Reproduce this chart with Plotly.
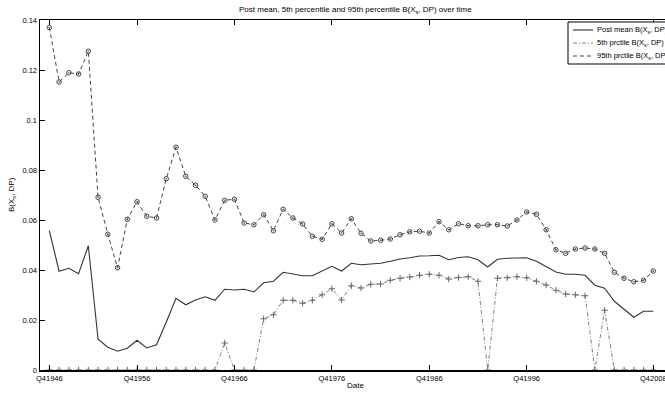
import plotly.graph_objects as go

# observation index (1..63) and labelled ticks
obs = list(range(1, 64))
tick_pos = [1, 10, 20, 30, 40, 50, 63]
tick_labels = ["Q41946", "Q41956", "Q41966", "Q41976", "Q41986", "Q41996", "Q42008"]
y_ticks = [0, 0.02, 0.04, 0.06, 0.08, 0.1, 0.12, 0.14]
y_tick_labels = ["0", "0.02", "0.04", "0.06", "0.08", "0.1", "0.12", "0.14"]

post_mean = [
    0.0557, 0.0395, 0.0407, 0.0385, 0.0497, 0.0123, 0.0091, 0.0075, 0.0087, 0.0119,
    0.0088, 0.0101, 0.0191, 0.0287, 0.0261, 0.0280, 0.0293, 0.0279, 0.0323, 0.0320,
    0.0323, 0.0312, 0.0349, 0.0355, 0.0391, 0.0384, 0.0377, 0.0377, 0.0395, 0.0415,
    0.0396, 0.0427, 0.0421, 0.0423, 0.0427, 0.0435, 0.0444, 0.0449, 0.0456, 0.0457,
    0.0459, 0.0441, 0.0450, 0.0453, 0.0441, 0.0412, 0.0443, 0.0447, 0.0449, 0.0449,
    0.0435, 0.0412, 0.0392, 0.0383, 0.0383, 0.0379, 0.0339, 0.0327, 0.0275, 0.0243,
    0.0211, 0.0235, 0.0235,
]

p5 = [
    0, 0, 0, 0, 0, 0, 0, 0, 0, 0,
    0, 0, 0, 0, 0, 0, 0, 0, 0.0108, 0,
    0, 0, 0.0205, 0.0221, 0.0279, 0.0279, 0.0267, 0.0279, 0.0301, 0.0325,
    0.0280, 0.0337, 0.0328, 0.0343, 0.0344, 0.0359, 0.0367, 0.0372, 0.0379, 0.0383,
    0.0379, 0.0364, 0.0370, 0.0373, 0.0355, 0, 0.0367, 0.0369, 0.0373, 0.0369,
    0.0355, 0.0340, 0.0319, 0.0304, 0.0301, 0.0297, 0, 0.0239, 0, 0,
    0, 0, 0,
]

p95 = [
    0.1370, 0.1152, 0.1189, 0.1184, 0.1275, 0.0691, 0.0543, 0.0409, 0.0603, 0.0673,
    0.0615, 0.0608, 0.0765, 0.0891, 0.0775, 0.0739, 0.0695, 0.0600, 0.0679, 0.0683,
    0.0588, 0.0581, 0.0621, 0.0557, 0.0643, 0.0608, 0.0584, 0.0535, 0.0523, 0.0585,
    0.0548, 0.0605, 0.0547, 0.0516, 0.0519, 0.0524, 0.0541, 0.0553, 0.0555, 0.0548,
    0.0593, 0.0561, 0.0585, 0.0577, 0.0577, 0.0581, 0.0581, 0.0576, 0.0600, 0.0632,
    0.0623, 0.0561, 0.0481, 0.0467, 0.0484, 0.0488, 0.0484, 0.0467, 0.0391, 0.0367,
    0.0353, 0.0359, 0.0396,
]

series_names = [
    "Post mean B(X<sub>s</sub>, DP)",
    "5th prctile B(X<sub>s</sub>, DP)",
    "95th prctile B(X<sub>s</sub>, DP)",
]

FONT = "Liberation Sans, Arial, Helvetica, sans-serif"
W, H = 665, 394
ML, MR, MT, MB = 40, 0, 20, 24

MEAN_LINE = dict(color="#333333", width=1.1)
P5_LINE = dict(color="#808080", width=1, dash="4px,2px,1px,2px")
P5_MARK = dict(symbol="cross-thin-open", size=4.5, color="#666666",
               line=dict(color="#666666", width=1))
P95_LINE = dict(color="#444444", width=1, dash="4px,3px")
P95_MARK = dict(symbol="circle-open-dot", size=4.5, color="#444444",
                line=dict(color="#444444", width=1))

fig = go.Figure()
fig.add_trace(go.Scatter(x=obs, y=post_mean, mode="lines", name=series_names[0],
                         line=MEAN_LINE, showlegend=False))
fig.add_trace(go.Scatter(x=obs, y=p5, mode="lines+markers", name=series_names[1],
                         line=P5_LINE, marker=P5_MARK, showlegend=False))
fig.add_trace(go.Scatter(x=obs, y=p95, mode="lines+markers", name=series_names[2],
                         line=P95_LINE, marker=P95_MARK, showlegend=False))

# ---- manual legend drawn on an overlay axis measured in pixels ----
leg_left, leg_top, leg_bot = 568, 22, 64
row_y = [30, 43, 56]
samp_x0, samp_x1, text_x = 573, 593, 595
shapes = [dict(type="rect", xref="x2", yref="y2", x0=leg_left, x1=720,
               y0=leg_top, y1=leg_bot, line=dict(color="black", width=1),
               fillcolor="white", layer="above")]
for ry, ln in zip(row_y, [MEAN_LINE, P5_LINE, P95_LINE]):
    shapes.append(dict(type="line", xref="x2", yref="y2", x0=samp_x0, x1=samp_x1,
                       y0=ry, y1=ry, line=ln, layer="above"))
fig.add_trace(go.Scatter(x=[583], y=[row_y[1]], mode="markers", marker=P5_MARK,
                         xaxis="x2", yaxis="y2", showlegend=False, hoverinfo="skip"))
fig.add_trace(go.Scatter(x=[583], y=[row_y[2]], mode="markers", marker=P95_MARK,
                         xaxis="x2", yaxis="y2", showlegend=False, hoverinfo="skip"))
annotations = []
for ry, nm in zip(row_y, series_names):
    annotations.append(dict(xref="x2", yref="y2", x=text_x, y=ry, text=nm,
                            xanchor="left", yanchor="middle", showarrow=False,
                            font=dict(family=FONT, size=7.5, color="black")))

# titles
annotations.append(dict(
    xref="paper", yref="paper", x=0.505, y=1 + (MT - 10) / (H - MT - MB),
    text="Post mean, 5th percentile and 95th percentile B(X<sub>s</sub>, DP) over time",
    xanchor="center", yanchor="middle", showarrow=False,
    font=dict(family=FONT, size=8, color="black")))
annotations.append(dict(
    xref="paper", yref="paper", x=0.505, y=-(385 - (H - MB)) / (H - MT - MB),
    text="Date", xanchor="center", yanchor="middle", showarrow=False,
    font=dict(family=FONT, size=8, color="black")))
annotations.append(dict(
    xref="paper", yref="paper", x=-(ML - 12) / (W - ML - MR), y=0.5,
    text="B(X<sub>s</sub>, DP)", textangle=-90, xanchor="center", yanchor="middle",
    showarrow=False, font=dict(family=FONT, size=8, color="black")))

fig.update_layout(
    width=W, height=H,
    margin=dict(l=ML, r=MR, t=MT, b=MB, autoexpand=False),
    paper_bgcolor="white", plot_bgcolor="white",
    font=dict(family=FONT, size=7.5, color="black"),
    showlegend=False, hovermode=False,
    shapes=shapes, annotations=annotations,
    xaxis2=dict(overlaying="x", range=[ML, W - MR], visible=False, fixedrange=True),
    yaxis2=dict(overlaying="y", range=[H - MB, MT], visible=False, fixedrange=True),
)

fig.layout.xaxis.update(
    range=[0.04, 64.2], tickmode="array", tickvals=tick_pos, ticktext=tick_labels,
    ticks="inside", ticklen=5, tickwidth=1, tickcolor="black",
    showline=True, linecolor="black", linewidth=1.5, mirror="allticks",
    showgrid=False, zeroline=False, automargin=False, ticklabeloverflow="allow",
    tickfont=dict(family=FONT, size=7.5),
)
fig.layout.yaxis.update(
    range=[0, 0.14], tickmode="array", tickvals=y_ticks, ticktext=y_tick_labels,
    ticks="inside", ticklen=5, tickwidth=1, tickcolor="black",
    showline=True, linecolor="black", linewidth=1.5, mirror=False,
    showgrid=False, zeroline=False, automargin=False, ticklabeloverflow="allow",
    tickfont=dict(family=FONT, size=7.5),
)

# remove the default page margin so the 665x394 figure fills the window exactly
fig.write_html(
    "out.html",
    config={"displayModeBar": False, "staticPlot": True},
    post_script="document.body.style.margin='0';document.body.style.overflow='hidden';",
)
